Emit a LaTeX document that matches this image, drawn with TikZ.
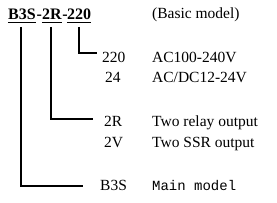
\documentclass[tikz,border=0pt]{standalone}
\usepackage{fontspec}
\setmainfont{Liberation Serif}
\newfontfamily\monofnt{Liberation Mono}
\begin{document}
\begin{tikzpicture}[x=1pt,y=-1pt,
  txt/.style={anchor=base west,inner sep=0pt,font=\fontsize{15.5}{18}\selectfont},
  code/.style={anchor=base west,inner sep=0pt,font=\fontsize{16}{18}\selectfont\bfseries},
  uline/.style={line width=1.5pt},
  lead/.style={line width=2pt}]
\useasboundingbox (0,0) rectangle (277,203);
% title parts
\node[code] (p1) at (8,20) {B3S};
\node[code] (d1) at (36.5,20) {-};
\node[code] (p2) at (42,20) {2R};
\node[code] (d2) at (62.3,20) {-};
\node[code] (p3) at (67,20) {220};
\foreach \p in {p1,p2,p3}
  \draw[uline] ([yshift=-2.5pt]\p.base west) -- ([yshift=-2.5pt]\p.base east);
\node[txt] (basic) at (152,19) {(Basic model)};
% labels
\node[txt] (l220) at (102,63) {220};
\node[txt] (ac) at (152,63) {AC100-240V};
\node[txt] (l24) at (105,83) {24};
\node[txt] (acdc) at (152,83) {AC/DC12-24V};
\node[txt] (l2r) at (104,127) {2R};
\node[txt] (relay) at (152,127) {Two relay output};
\node[txt] (l2v) at (104,148) {2V};
\node[txt] (ssr) at (152,148) {Two SSR output};
\node[txt] (lb3s) at (100,191) {B3S};
\node[txt,font=\fontsize{14}{18}\monofnt] (main) at (152,191) {Main model};
% leaders
\coordinate (e3) at ([xshift=-5pt,yshift=4.5pt]l220.west);
\coordinate (e2) at ([xshift=-11pt,yshift=3pt]l2r.west);
\coordinate (e1) at ([xshift=-17pt]lb3s.west);
\draw[lead] ([xshift=-0.5pt,yshift=-7pt]p3.base) |- (e3);
\draw[lead] ([xshift=-1pt,yshift=-7pt]p2.base) |- (e2);
\draw[lead] ([xshift=-0.5pt,yshift=-7pt]p1.base) |- (e1);
\end{tikzpicture}
\end{document}
